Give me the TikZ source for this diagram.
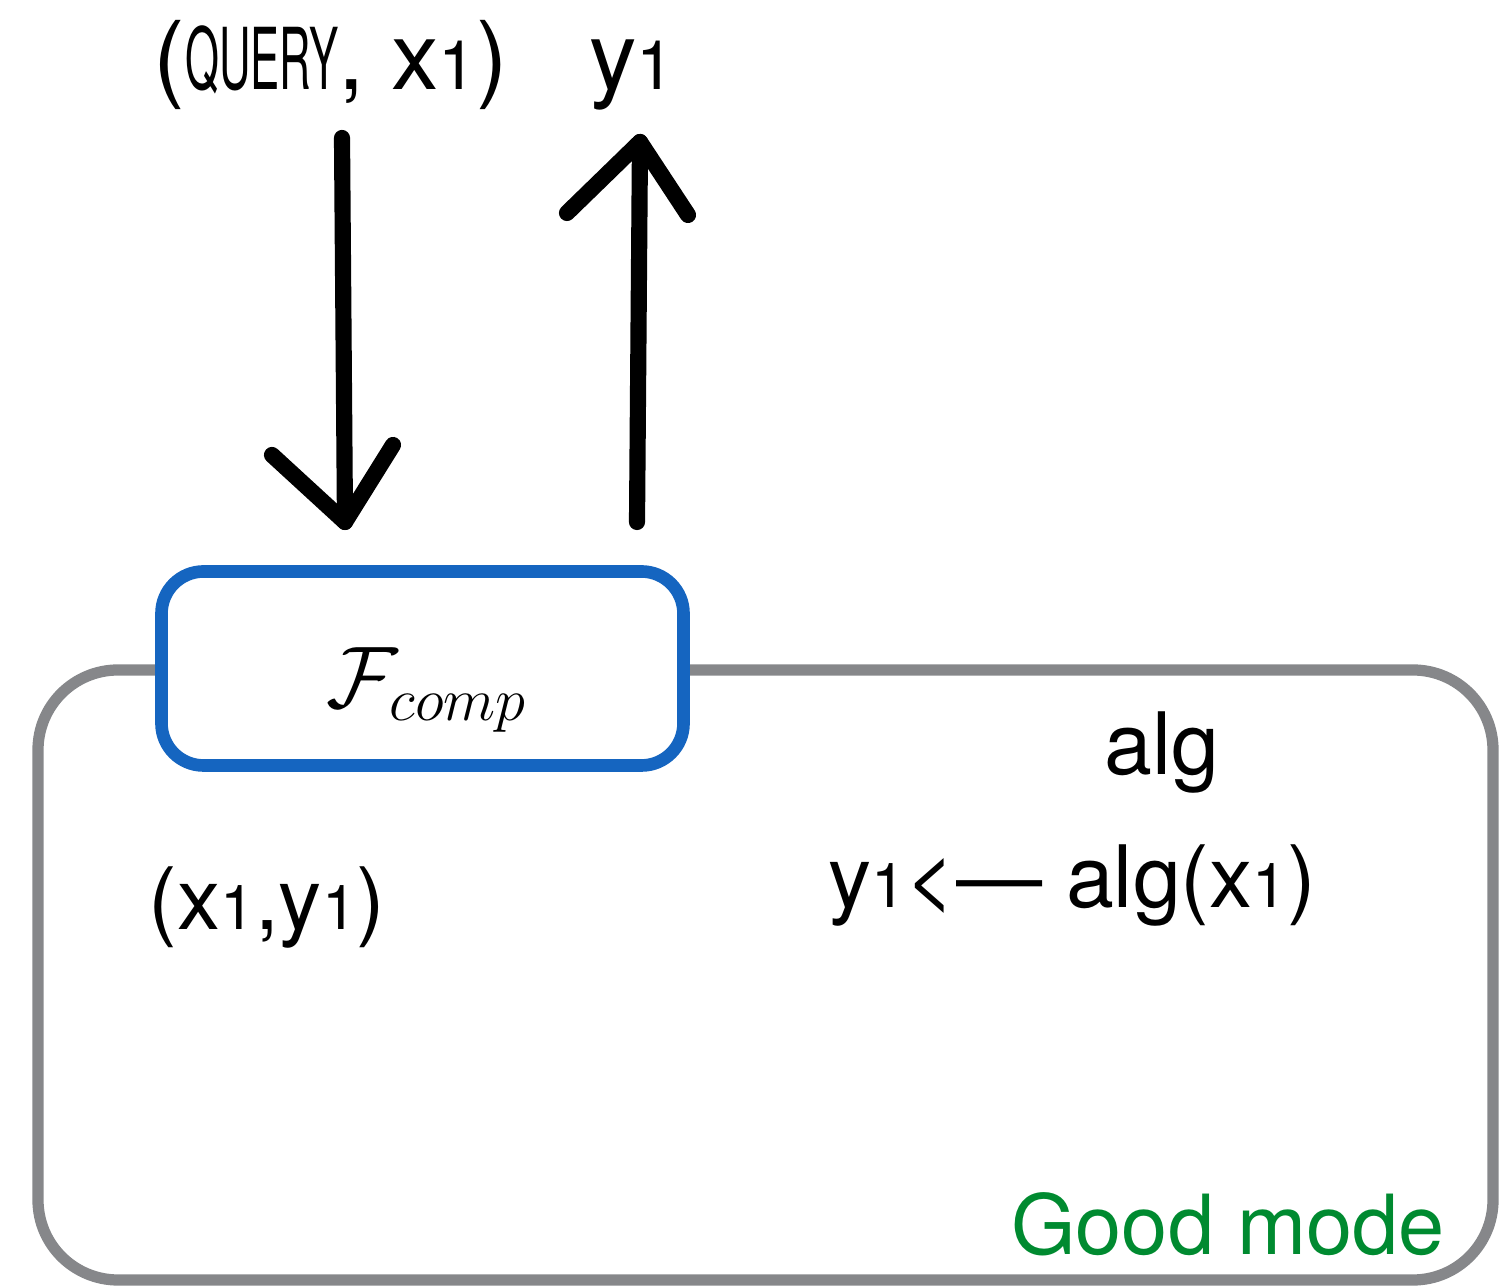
\documentclass[tikz,border=0pt]{standalone}
\usepackage{fontspec}
\usepackage{graphicx}
\setmainfont{TeX Gyre Heros}

\definecolor{modegray}{HTML}{86878A}
\definecolor{funcblue}{HTML}{1565C0}
\definecolor{goodgreen}{HTML}{008A30}

% small index digit sitting on the baseline
\newcommand\lowone{\scalebox{0.72}{1}}

\begin{document}
\begin{tikzpicture}[x=1cm,y=1cm,
  txt/.style={inner sep=0pt, font=\fontsize{24.5pt}{28pt}\selectfont},
  toptxt/.style={inner sep=0pt, font=\fontsize{27pt}{30pt}\selectfont},
  brush/.style={line width=4.6pt, line cap=round, line join=round, black},
  modebox/.style={draw=modegray, line width=3.2pt, rounded corners=0.8cm,
    minimum width=14.55cm, minimum height=6.10cm, inner sep=0pt},
  funcbox/.style={draw=funcblue, fill=white, line width=3.6pt, rounded corners=0.42cm,
    minimum width=5.22cm, minimum height=1.94cm, inner sep=0pt}]
\useasboundingbox (0,0) rectangle (15.01,12.88);

% outer mode box and the functionality box sitting on its top edge
\node[modebox] (mode) at (7.655,3.13) {};
\node[funcbox] (func) at (4.225,6.195) {};
\node[inner sep=0pt, font=\fontsize{27pt}{30pt}\selectfont] (fname) at (4.27,5.98)
  {$\mathcal{F}_{comp}$};

% labels above the arrows
\node[toptxt, anchor=base] (query) at (3.31,11.98)
  {(\scalebox{0.46}[0.9]{QUERY}, x\lowone)};
\node[toptxt, anchor=base] (answer) at (6.32,11.98) {y\lowone};

% arrow ends
\coordinate (qtail) at (3.42,11.50);
\coordinate (qtip)  at (3.45,7.66);
\coordinate (qarmL) at (2.72,8.33);
\coordinate (qarmR) at (3.93,8.43);
\coordinate (atail) at (6.37,7.66);
\coordinate (atip)  at (6.40,11.46);
\coordinate (aarmL) at (5.67,10.75);
\coordinate (aarmR) at (6.88,10.73);

% query goes down into the functionality
\draw[brush] (qtail) -- (qtip);
\draw[brush] (qarmL) -- (qtip) -- (qarmR);
% answer comes back up
\draw[brush] (atail) -- (atip);
\draw[brush] (aarmL) -- (atip) -- (aarmR);

% contents of the mode box
\node[txt, anchor=base] (algname) at (11.62,5.13) {alg};
\node[txt, anchor=base] (algrun) at (10.72,3.80) {y\lowone<— alg(x\lowone)};
\node[txt, anchor=base] (pair) at (2.67,3.58) {(x\lowone,y\lowone)};
\node[txt, anchor=base, text=goodgreen, font=\fontsize{23.6pt}{28pt}\selectfont]
  (modename) at (12.28,0.33) {Good mode};
\end{tikzpicture}
\end{document}
